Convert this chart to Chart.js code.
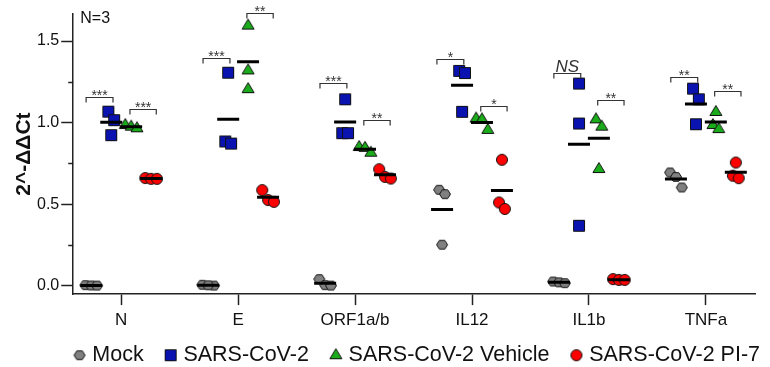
<!DOCTYPE html>
<html>
<head>
<meta charset="utf-8">
<script src="https://cdn.jsdelivr.net/npm/chart.js@4"></script>
<style>
  html, body { margin: 0; padding: 0; background: #fff; }
  #wrap { width: 770px; height: 367px; }
</style>
</head>
<body>
<div id="wrap"><canvas id="chart"></canvas></div>
<script>
// genes on the x axis
var genes = ['N', 'E', 'ORF1a/b', 'IL12', 'IL1b', 'TNFa'];
var yTicks = [0, 0.5, 1, 1.5];
var yMinor = [0.25, 0.75, 1.25];

// replicates (n=3) per gene
var mock     = [[0.003, 0.001, 0], [0.005, 0, 0.002], [0.04, 0.003, 0], [0.588, 0.561, 0.251], [0.025, 0.02, 0.015], [0.694, 0.667, 0.602]];
var sars     = [[1.067, 1.015, 0.923], [1.306, 0.884, 0.871], [1.143, 0.935, 0.935], [1.317, 1.304, 1.066], [1.239, 0.994, 0.367], [1.208, 1.143, 0.99]];
var vehicle  = [[0.985, 0.975, 0.965], [1.595, 1.32, 1.205], [0.85, 0.845, 0.815], [1.025, 1.02, 0.955], [1.02, 0.975, 0.715], [1.065, 0.985, 0.96]];
var pi7      = [[0.66, 0.655, 0.655], [0.586, 0.525, 0.514], [0.714, 0.667, 0.657], [0.772, 0.51, 0.47], [0.04, 0.035, 0.035], [0.755, 0.674, 0.659]];

// significance: mock vs SARS-CoV-2, vehicle vs PI-7 (label, bracket height)
var sigSars    = ['***', '***', '***', '*', 'NS', '**'];
var sigSarsY   = [1.157, 1.398, 1.245, 1.388, 1.302, 1.28];
var sigPi7     = ['***', '**', '**', '*', '**', '**'];
var sigPi7Y    = [1.084, 1.674, 1.017, 1.102, 1.137, 1.194];

var groupOff = [-0.256, -0.085, 0.085, 0.256];
var FONT = "'Liberation Sans', Arial, sans-serif";

// marker image; w = canvas width, cx = where the shape sits inside it
function marker(shape, fill, w, cx) {
    var c = document.createElement('canvas');
    c.width = w; c.height = 16;
    var g = c.getContext('2d');
    g.fillStyle = fill; g.strokeStyle = '#111'; g.lineWidth = 1;
    g.beginPath();
    if (shape === 'hex') {
        for (var k = 0; k < 6; k++) {
            var a = Math.PI / 3 * k;
            g.lineTo(cx + 5.5 * Math.cos(a), 8 + 5 * Math.sin(a));
        }
        g.closePath();
    } else if (shape === 'square') {
        g.rect(cx - 5.5, 2.5, 11, 11);
    } else if (shape === 'tri') {
        g.moveTo(cx, 1.5); g.lineTo(cx + 6, 11.5); g.lineTo(cx - 6, 11.5); g.closePath();
    } else {
        g.arc(cx, 8, 5.5, 0, Math.PI * 2);
    }
    g.fill(); g.stroke();
    return c;
}
var styles = [['hex', '#808080'], ['square', '#0a12b0'], ['tri', '#1aac1a'], ['circle', '#ff0000']];
var plotMarks = styles.map(function(s) { return marker(s[0], s[1], 16, 8); });
var legendMarks = styles.map(function(s) { return marker(s[0], s[1], 40, 28); });

// spread overlapping replicates sideways (higher value to the left)
function spread(vals) {
    var idx = vals.map(function(v, i) { return i; }).sort(function(a, b) { return vals[b] - vals[a]; });
    var off = vals.map(function() { return 0; });
    var cl = [idx[0]];
    function flush() { cl.forEach(function(k, j) { off[k] = (j - (cl.length - 1) / 2) * 0.05; }); }
    for (var n = 1; n < idx.length; n++) {
        if (vals[idx[n - 1]] - vals[idx[n]] < 0.07) cl.push(idx[n]);
        else { flush(); cl = [idx[n]]; }
    }
    flush();
    return off;
}

var series = [mock, sars, vehicle, pi7];
function points(rows, g) {
    var out = [];
    rows.forEach(function(vals, i) {
        var off = spread(vals);
        vals.forEach(function(v, j) { out.push({ x: i + groupOff[g] + off[j], y: v }); });
    });
    return out;
}
var means = [];
series.forEach(function(rows, g) {
    rows.forEach(function(vals, i) {
        var m = vals.reduce(function(s, v) { return s + v; }, 0) / vals.length;
        means.push({ x: i + groupOff[g], y: m });
    });
});

var annotations = {
    id: 'annotations',
    afterDraw: function(chart) {
        var ctx = chart.ctx, xs = chart.scales.x, ys = chart.scales.y, area = chart.chartArea;
        ctx.save();
        // minor y ticks
        ctx.strokeStyle = '#222'; ctx.lineWidth = 1.5;
        yMinor.forEach(function(v) {
            var py = Math.round(ys.getPixelForValue(v)) + 0.5;
            ctx.beginPath(); ctx.moveTo(area.left - 5, py); ctx.lineTo(area.left, py); ctx.stroke();
        });
        // brackets
        function bracket(i, a, b, yv, label) {
            var x1 = xs.getPixelForValue(i + a), x2 = xs.getPixelForValue(i + b), py = Math.round(ys.getPixelForValue(yv)) + 0.5;
            ctx.strokeStyle = '#333'; ctx.lineWidth = 1.2;
            ctx.beginPath(); ctx.moveTo(x1, py + 5); ctx.lineTo(x1, py); ctx.lineTo(x2, py); ctx.lineTo(x2, py + 5); ctx.stroke();
            ctx.fillStyle = '#333'; ctx.textAlign = 'center'; ctx.textBaseline = 'alphabetic';
            if (label === 'NS') {
                ctx.font = 'italic 17px ' + FONT;
                ctx.fillText(label, (x1 + x2) / 2, py - 2);
            } else {
                ctx.font = '14px ' + FONT;
                ctx.fillText(label, (x1 + x2) / 2, py + 2);
            }
        }
        genes.forEach(function(g, i) {
            bracket(i, -0.30, -0.07, sigSarsY[i], sigSars[i]);
            bracket(i, 0.075, 0.30, sigPi7Y[i], sigPi7[i]);
        });
        ctx.fillStyle = '#111'; ctx.font = '16px ' + FONT; ctx.textAlign = 'left'; ctx.textBaseline = 'top';
        ctx.fillText('N=3', area.left + 7, 11);
        ctx.restore();
    }
};

var ctx = document.getElementById('chart').getContext('2d');
window.myChart = new Chart(ctx, {
    type: 'scatter',
    data: {
        datasets: [{
            label: 'mean',
            data: means,
            pointStyle: 'line',
            pointRadius: 11,
            borderWidth: 3,
            borderColor: '#000'
        }, {
            label: 'Mock', data: points(mock, 0), pointStyle: plotMarks[0]
        }, {
            label: 'SARS-CoV-2', data: points(sars, 1), pointStyle: plotMarks[1]
        }, {
            label: 'SARS-CoV-2 Vehicle', data: points(vehicle, 2), pointStyle: plotMarks[2]
        }, {
            label: 'SARS-CoV-2 PI-7', data: points(pi7, 3), pointStyle: plotMarks[3]
        }]
    },
    options: {
        responsive: true,
        maintainAspectRatio: false,
        animation: false,
        layout: { padding: { left: 14, right: 1, top: 13, bottom: -9 } },
        plugins: {
            tooltip: { enabled: false },
            legend: {
                position: 'bottom',
                align: 'end',
                labels: {
                    usePointStyle: true,
                    boxWidth: 20, boxHeight: 10,
                    padding: 9,
                    color: '#111',
                    font: { family: FONT, size: 21.5 },
                    filter: function(item) { return item.datasetIndex > 0; },
                    generateLabels: function(chart) {
                        var items = Chart.defaults.plugins.legend.labels.generateLabels(chart);
                        items.forEach(function(it) {
                            if (it.datasetIndex > 0) it.pointStyle = legendMarks[it.datasetIndex - 1];
                        });
                        return items;
                    }
                }
            }
        },
        scales: {
            x: {
                type: 'linear', min: -0.41, max: 5.42,
                afterBuildTicks: function(s) { s.ticks = genes.map(function(g, i) { return { value: i }; }); },
                grid: { drawOnChartArea: false, tickLength: 11, tickColor: '#222', tickWidth: 1.5 },
                border: { color: '#222', width: 1.5 },
                ticks: {
                    autoSkip: false, maxRotation: 0, padding: 5, color: '#111',
                    font: { family: FONT, size: 17 },
                    callback: function(v) { return genes[v]; }
                }
            },
            y: {
                min: -0.052, max: 1.666,
                afterBuildTicks: function(s) { s.ticks = yTicks.map(function(v) { return { value: v }; }); },
                grid: { drawOnChartArea: false, tickLength: 12, tickColor: '#222', tickWidth: 1.5 },
                border: { color: '#222', width: 1.5 },
                title: { display: true, text: '2^-ΔΔCt', color: '#111', font: { family: FONT, size: 21, weight: 'bold', lineHeight: 1 }, padding: 0 },
                ticks: {
                    padding: 2, color: '#111',
                    font: { family: FONT, size: 16 },
                    callback: function(v) { return v.toFixed(1); }
                }
            },
            // empty strip on the right so the plot ends short of the legend
            yRight: {
                position: 'right', display: true,
                grid: { display: false, drawTicks: false },
                border: { display: false },
                ticks: { display: false },
                afterFit: function(s) { s.width = 14; }
            }
        }
    },
    plugins: [annotations]
});
</script>
</body>
</html>
